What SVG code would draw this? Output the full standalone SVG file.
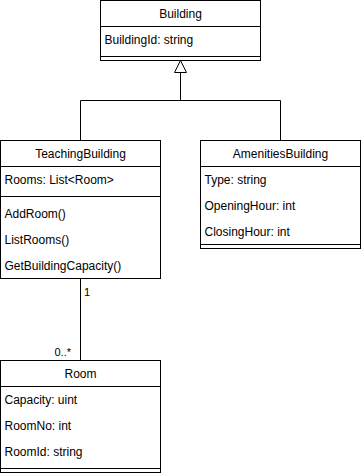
<svg xmlns="http://www.w3.org/2000/svg" width="361" height="473" viewBox="0 0 361 473">
  <style>
    .box { fill: #ffffff; stroke: #000000; stroke-width: 1; }
    .ln { fill: none; stroke: #000000; stroke-width: 1; }
    .title { font-family: "Liberation Sans", Arial, sans-serif; font-size: 12px; fill: #000000; text-anchor: middle; }
    .row { font-family: "Liberation Sans", Arial, sans-serif; font-size: 12px; fill: #000000; }
    .lbl { font-family: "Liberation Sans", Arial, sans-serif; font-size: 11px; fill: #000000; }
  </style>
  <defs>
    <marker id="inherit" markerWidth="14" markerHeight="14" refX="0" refY="6" orient="auto" markerUnits="userSpaceOnUse" viewBox="-1 -1 14 14">
      <path d="M12,0 L0,6 L12,12 Z" fill="#ffffff" stroke="#000000" stroke-width="1"/>
    </marker>
  </defs>
  <rect width="361" height="473" fill="#ffffff"/>

  <g id="connectors">
    <!-- generalization: subclasses to Building -->
    <path class="ln" d="M80.5,140.5 V100.5 H280.5 V140.5"/>
    <path class="ln" d="M180.5,100.5 V72.5"/>
    <path d="M180.5,60.5 L186.5,72.5 L174.5,72.5 Z" fill="#ffffff" stroke="#000000" stroke-width="1"/>
    <!-- association TeachingBuilding - Room -->
    <path class="ln" d="M80.5,278.5 V360.5"/>
    <text class="lbl" x="84" y="296">1</text>
    <text class="lbl" x="71" y="356" text-anchor="end">0..*</text>
  </g>

  <g id="building">
    <rect class="box" x="100.5" y="0.5" width="160" height="60"/>
    <path class="ln" d="M100.5,26.5 H260.5 M100.5,56.5 H260.5"/>
    <text class="title" x="180.5" y="17.5">Building</text>
    <text class="row" x="104.5" y="43.5">BuildingId: string</text>
  </g>

  <g id="teaching-building">
    <rect class="box" x="0.5" y="140.5" width="160" height="138"/>
    <path class="ln" d="M0.5,166.5 H160.5 M0.5,196.5 H160.5"/>
    <text class="title" x="80.5" y="157.5">TeachingBuilding</text>
    <text class="row" x="4.5" y="183.5">Rooms: List&lt;Room&gt;</text>
    <text class="row" x="4.5" y="217.5">AddRoom()</text>
    <text class="row" x="4.5" y="243.5">ListRooms()</text>
    <text class="row" x="4.5" y="269.5">GetBuildingCapacity()</text>
  </g>

  <g id="amenities-building">
    <rect class="box" x="200.5" y="140.5" width="160" height="108"/>
    <path class="ln" d="M200.5,166.5 H360.5 M200.5,244.5 H360.5"/>
    <text class="title" x="280.5" y="157.5">AmenitiesBuilding</text>
    <text class="row" x="204.5" y="183.5">Type: string</text>
    <text class="row" x="204.5" y="209.5">OpeningHour: int</text>
    <text class="row" x="204.5" y="235.5">ClosingHour: int</text>
  </g>

  <g id="room">
    <rect class="box" x="0.5" y="360.5" width="160" height="112"/>
    <path class="ln" d="M0.5,386.5 H160.5 M0.5,468.5 H160.5"/>
    <text class="title" x="80.5" y="377.5">Room</text>
    <text class="row" x="4.5" y="403.5">Capacity: uint</text>
    <text class="row" x="4.5" y="429.5">RoomNo: int</text>
    <text class="row" x="4.5" y="455.5">RoomId: string</text>
  </g>
</svg>
